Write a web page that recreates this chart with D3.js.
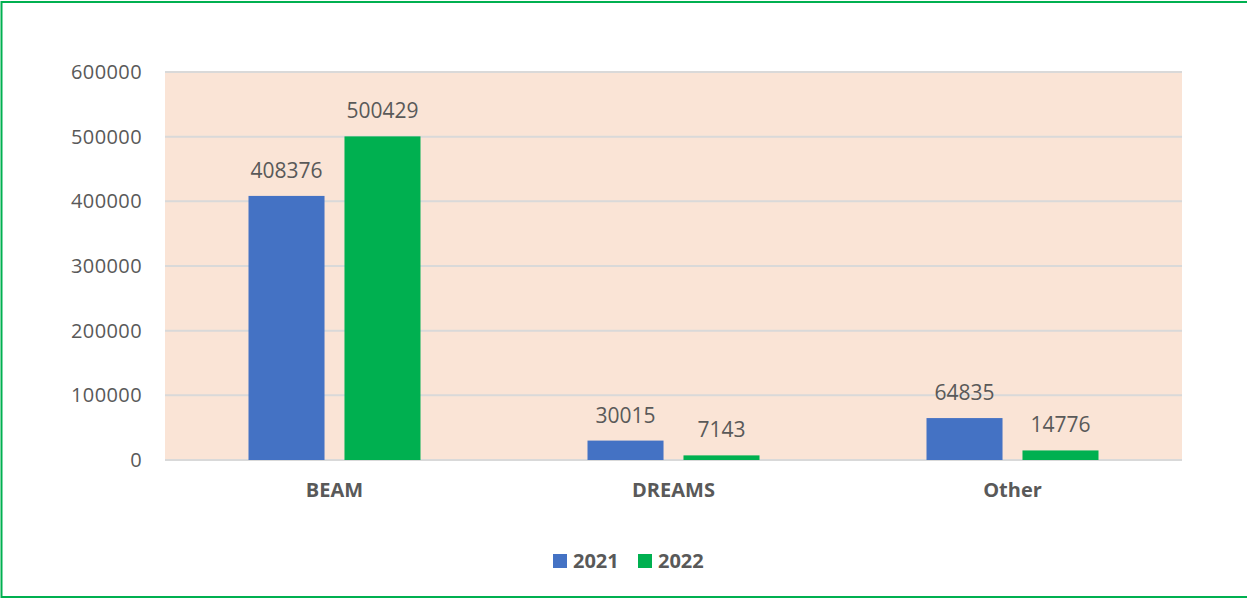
<!DOCTYPE html>
<html>
<head>
<meta charset="utf-8">
<script src="https://cdn.jsdelivr.net/npm/d3@7"></script>
<style>
body { margin:0; background:#fff; }
text { font-family:"Open Sans", sans-serif; fill:#595959; }
</style>
</head>
<body>
<svg id="chart"></svg>
<script>
var categories = ["BEAM", "DREAMS", "Other"];
var years = ["2021", "2022"];
var values2021 = [408376, 30015, 64835];
var values2022 = [500429, 7143, 14776];
var yTicks = [0, 100000, 200000, 300000, 400000, 500000, 600000];
var colors = ["#4472C4", "#00B050"];

var screen = {width:1247, height:599};
var margins = {top:72, bottom:139, left:165, right:65};
var graph = {
    width:screen.width-margins.left-margins.right,
    height:screen.height-margins.top-margins.bottom
};

var svg = d3.select("#chart")
    .attr("width",screen.width)
    .attr("height",screen.height);

// outer frame (no right edge visible)
svg.append("path")
    .attr("d","M1249,2 H1.5 V597 H1249")
    .attr("fill","none")
    .attr("stroke","#00B050")
    .attr("stroke-width",2);

var g = svg.append("g")
    .attr("transform","translate("+margins.left+","+margins.top+")");

var xScale = d3.scaleBand()
    .domain(categories)
    .range([0,graph.width]);

var inner = d3.scaleBand()
    .domain(years)
    .range([xScale.bandwidth()/2-86, xScale.bandwidth()/2+86])
    .paddingInner(0.208)
    .paddingOuter(0);

var yScale = d3.scaleLinear()
    .domain([0,600000])
    .range([graph.height,0]);

g.append("rect")
    .attr("width",graph.width)
    .attr("height",graph.height)
    .attr("fill","#FAE4D6");

g.selectAll("line.grid")
    .data(yTicks)
    .enter()
    .append("line")
    .attr("x1",0)
    .attr("x2",graph.width)
    .attr("y1",function(d){ return yScale(d); })
    .attr("y2",function(d){ return yScale(d); })
    .attr("stroke","#D9D9D9")
    .attr("stroke-width",2);

var yAxis = d3.axisLeft(yScale)
    .tickValues(yTicks)
    .tickSize(0)
    .tickPadding(23)
    .tickFormat(function(d){ return d; });

var ya = g.append("g").call(yAxis);
ya.select(".domain").remove();
ya.selectAll("text")
    .style("font-family","'Open Sans', sans-serif")
    .style("font-size","20px")
    .style("letter-spacing","0.4px")
    .attr("fill","#4d4d4d");

var xAxis = d3.axisBottom(xScale).tickSize(0).tickPadding(23);
var xa = g.append("g")
    .attr("transform","translate(0,"+graph.height+")")
    .call(xAxis);
xa.select(".domain").remove();
xa.selectAll("text")
    .style("font-family","'Open Sans', sans-serif")
    .style("font-size","20px")
    .style("font-weight","bold")
    .attr("fill","#595959");

var rows = categories.map(function(c,i){
    return {cat:c, vals:[values2021[i], values2022[i]]};
});

var groups = g.selectAll("g.cat")
    .data(rows)
    .enter()
    .append("g")
    .attr("transform",function(d){ return "translate("+xScale(d.cat)+",0)"; });

var bars = groups.selectAll("rect")
    .data(function(d){ return d.vals.map(function(v,j){ return {year:years[j], v:v, j:j}; }); })
    .enter();

bars.append("rect")
    .attr("x",function(d){ return inner(d.year); })
    .attr("width",inner.bandwidth())
    .attr("y",function(d){ return yScale(d.v); })
    .attr("height",function(d){ return graph.height-yScale(d.v); })
    .attr("fill",function(d){ return colors[d.j]; });

bars.append("text")
    .attr("x",function(d){ return inner(d.year)+inner.bandwidth()/2; })
    .attr("y",function(d){ return yScale(d.v)-18; })
    .attr("text-anchor","middle")
    .style("font-size","21px")
    .attr("fill","#404040")
    .text(function(d){ return d.v; });

// legend
var legend = svg.append("g")
    .attr("transform","translate(553,554)");
var items = legend.selectAll("g")
    .data(years)
    .enter()
    .append("g")
    .attr("transform",function(d,i){ return "translate("+(i*85)+",0)"; });
items.append("rect")
    .attr("width",14)
    .attr("height",14)
    .attr("fill",function(d,i){ return colors[i]; });
items.append("text")
    .attr("x",20)
    .attr("y",14)
    .style("font-size","20px")
    .style("font-weight","bold")
    .text(function(d){ return d; });
</script>
</body>
</html>
